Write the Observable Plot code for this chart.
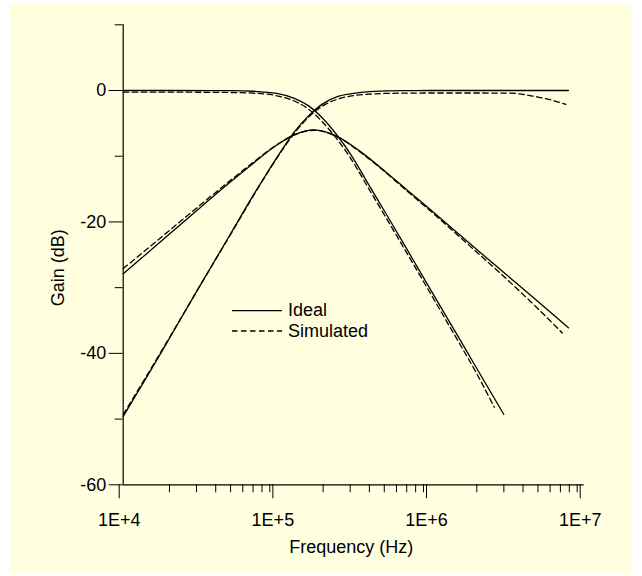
<!DOCTYPE html>
<html>
<head>
<meta charset="utf-8">
<script src="https://cdn.jsdelivr.net/npm/d3@7"></script>
<script src="https://cdn.jsdelivr.net/npm/@observablehq/plot@0.6"></script>
<style>
  html, body { margin: 0; padding: 0; background: #ffffff; }
  #panel { position: absolute; left: 10px; top: 3px; width: 622px; height: 570px; background: #FFFFE0; overflow: hidden; }
  #legend { position: absolute; left: 0; top: 0; }
  svg text { font-family: "Liberation Sans", Arial, sans-serif; }
</style>
</head>
<body>
<div id="panel"></div>
<script>
// ---- data ----
const freqLP      = [1e4, 2e4, 5e4, 7e4, 1e5, 1.3e5, 1.6e5, 2e5, 2.5e5, 3e5, 4e5, 5e5, 7e5, 1e6, 1.5e6, 2e6, 3e6];
const idealLP     = [0, 0, -0.03, -0.11, -0.44, -1.2, -2.3, -4.3, -7.0, -9.6, -14.5, -18.3, -24.1, -30.3, -37.3, -42.3, -49.3];
const freqLPsim   = [1e4, 2e4, 5e4, 7e4, 1e5, 1.3e5, 1.6e5, 2e5, 2.5e5, 3e5, 4e5, 5e5, 7e5, 1e6, 1.5e6, 2e6, 2.6e6];
const simLP       = [-0.25, -0.25, -0.3, -0.4, -0.8, -1.6, -2.8, -4.9, -7.6, -10.2, -15.1, -18.9, -24.7, -30.9, -38.0, -43.1, -48.2];

const freqHP      = [1e4, 1.5e4, 2e4, 3e4, 5e4, 7e4, 1e5, 1.3e5, 1.6e5, 2e5, 2.5e5, 3e5, 4e5, 5e5, 7e5, 1e6, 7.9e6];
const idealHP     = [-49.6, -42.7, -37.7, -30.6, -21.8, -16.0, -10.2, -6.3, -3.9, -2.0, -0.9, -0.5, -0.16, -0.07, -0.02, 0, 0];
const freqHPsim   = [1e4, 1.5e4, 2e4, 3e4, 5e4, 7e4, 1e5, 1.3e5, 1.6e5, 2e5, 2.5e5, 3e5, 4e5, 5e5, 7e5, 1e6, 2e6, 3.3e6, 4.5e6, 6e6, 7.6e6];
const simHP       = [-49.3, -42.5, -37.6, -30.6, -21.9, -16.1, -10.3, -6.5, -4.1, -2.3, -1.3, -0.85, -0.55, -0.45, -0.4, -0.38, -0.38, -0.4, -0.8, -1.4, -2.1];

const freqBP      = [1e4, 2e4, 3e4, 5e4, 7e4, 1e5, 1.3e5, 1.75e5, 2.5e5, 3.5e5, 5e5, 7e5, 1e6, 2e6, 3e6, 5e6, 7.9e6];
const idealBP     = [-27.9, -21.85, -18.3, -13.9, -11.1, -8.3, -6.75, -6.0, -7.05, -9.3, -12.2, -15.1, -18.15, -24.2, -27.7, -32.1, -36.1];
const freqBPsim   = [1e4, 2e4, 3e4, 5e4, 7e4, 1e5, 1.3e5, 1.75e5, 2.5e5, 3.5e5, 5e5, 7e5, 1e6, 2e6, 3e6, 5e6, 7.2e6];
const simBP       = [-27.1, -21.3, -17.9, -13.65, -10.95, -8.25, -6.75, -6.05, -7.1, -9.4, -12.3, -15.25, -18.35, -24.6, -28.3, -33.2, -36.9];

const xMajorTicks = [1e4, 1e5, 1e6, 1e7];
const xMinorTicks = [2e4,3e4,4e4,5e4,6e4,7e4,8e4,9e4, 2e5,3e5,4e5,5e5,6e5,7e5,8e5,9e5, 2e6,3e6,4e6,5e6,6e6,7e6,8e6,9e6];
const yMajorTicks = [0, -20, -40, -60];
const yMinorTicks = [10, -10, -30, -50];
const xTitle = "Frequency (Hz)";
const yTitle = "Gain (dB)";
const legendLabels = ["Ideal", "Simulated"];

// ---- build table ----
function series(fs, gs, name, kind) {
  return fs.map((f, i) => ({f, g: gs[i], name, kind}));
}
const ideal = [
  ...series(freqLP, idealLP, "LP", "Ideal"),
  ...series(freqHP, idealHP, "HP", "Ideal"),
  ...series(freqBP, idealBP, "BP", "Ideal")
];
const simulated = [
  ...series(freqLPsim, simLP, "LP", "Simulated"),
  ...series(freqHPsim, simHP, "HP", "Simulated"),
  ...series(freqBPsim, simBP, "BP", "Simulated")
];

const DASH = "5.5,3.5";
const chart = Plot.plot({
  width: 622,
  height: 570,
  marginLeft: 112.7,
  marginRight: 48.3,
  marginTop: 21.3,
  marginBottom: 88.7,
  style: {background: "transparent", fontSize: "18px", fontFamily: "Liberation Sans, Arial, sans-serif", color: "#000"},
  x: {type: "log", domain: [1e4, 1e7]},
  y: {domain: [-60, 10]},
  marks: [
    Plot.axisX({ticks: xMinorTicks, tickSize: 8, tickFormat: () => "", label: null}),
    Plot.axisX({ticks: xMajorTicks, tickSize: 14, tickPadding: 14, dx: -4, tickFormat: d => "1E+" + Math.round(Math.log10(d)), label: null}),
    Plot.axisY({ticks: yMinorTicks, tickSize: 8, tickFormat: () => "", label: null}),
    Plot.axisY({ticks: yMajorTicks, tickSize: 14, tickPadding: 3, tickFormat: d => String(d), label: null}),
    Plot.ruleY([-60], {strokeWidth: 1.2}),
    Plot.ruleX([1e4], {strokeWidth: 1.2}),
    Plot.line(ideal, {x: "f", y: "g", z: "name", stroke: "#000", strokeWidth: 1.3, curve: "monotone-x"}),
    Plot.line(simulated, {x: "f", y: "g", z: "name", stroke: "#000", strokeWidth: 1.3, strokeDasharray: DASH, curve: "monotone-x"}),
    Plot.text([xTitle], {text: d => d, frameAnchor: "bottom", textAnchor: "middle", lineAnchor: "middle", dy: 62, dx: -2.5, fontSize: 18}),
    Plot.text([yTitle], {text: d => d, frameAnchor: "left", textAnchor: "middle", lineAnchor: "middle", rotate: -90, dx: -64.7, dy: 13, fontSize: 18})
  ]
});
const panel = document.getElementById("panel");
panel.appendChild(chart);

// ---- legend overlay ----
const ns = "http://www.w3.org/2000/svg";
const leg = document.createElementNS(ns, "svg");
leg.setAttribute("id", "legend");
leg.setAttribute("width", 622);
leg.setAttribute("height", 570);
const rows = [{y: 307.7, base: 313.2, dash: null}, {y: 328, base: 333.7, dash: DASH}];
legendLabels.forEach((lab, i) => {
  const r = rows[i];
  const ln = document.createElementNS(ns, "line");
  ln.setAttribute("x1", 222); ln.setAttribute("x2", 272);
  ln.setAttribute("y1", r.y); ln.setAttribute("y2", r.y);
  ln.setAttribute("stroke", "#000"); ln.setAttribute("stroke-width", 1.3);
  if (r.dash) ln.setAttribute("stroke-dasharray", r.dash);
  leg.appendChild(ln);
  const t = document.createElementNS(ns, "text");
  t.setAttribute("x", 278); t.setAttribute("y", r.base);
  t.setAttribute("font-size", 18);
  t.setAttribute("fill", "#000");
  t.textContent = lab;
  leg.appendChild(t);
});
panel.appendChild(leg);
</script>
</body>
</html>
